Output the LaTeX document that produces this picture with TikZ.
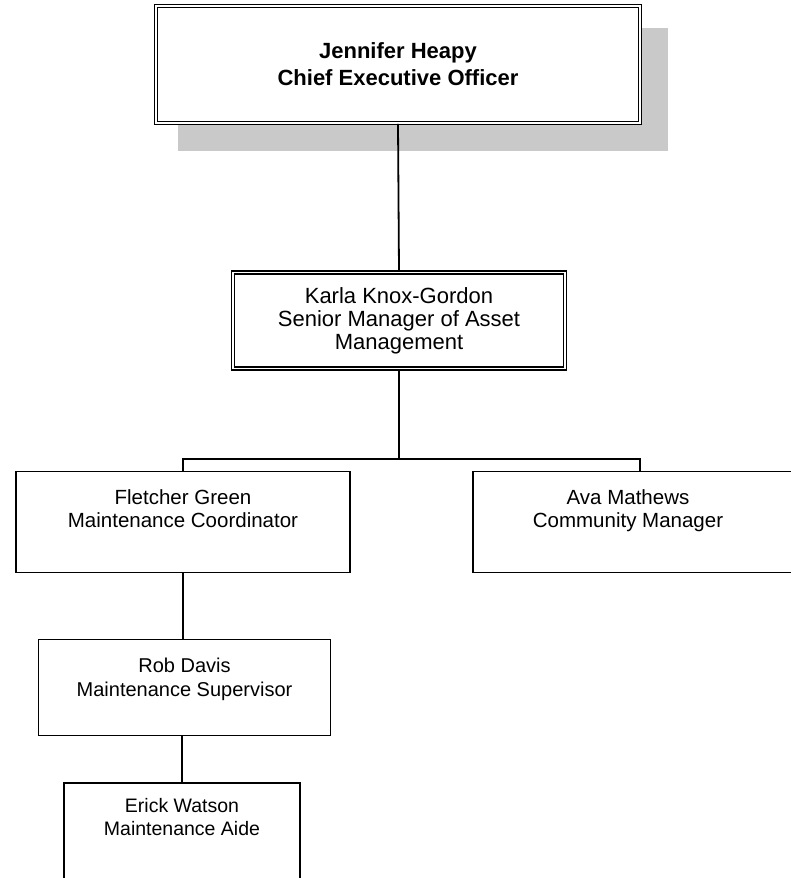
\documentclass[tikz,border=0pt]{standalone}
\usepackage{fontspec}
\setmainfont{Liberation Sans}
\begin{document}
\begin{tikzpicture}[x=1pt,y=-1pt,
  box/.style={draw, line width=1.8pt, inner sep=0pt},
  dbox/.style={box, double, double distance=1.6pt, line width=1.6pt},
  caption/.style={inner sep=0pt, align=center, anchor=north},
  link/.style={line width=1.8pt},
  shade/.style={fill=black!21, draw=none}]
\clip (0,0) rectangle (791,878);
\useasboundingbox (0,0) rectangle (791,878);

% drop shadow behind the top box
\fill[shade] (178,28) rectangle (668,151);

% chief executive
\node[dbox, fill=white, minimum width=484pt, minimum height=117pt] (ceo) at (398,64.5) {};
\node[inner sep=0pt, align=center, font=\bfseries\fontsize{22}{27}\selectfont] (ceo-t)
  at (ceo.center) {Jennifer Heapy\\Chief Executive Officer};

% senior manager
\node[dbox, minimum width=332pt, minimum height=96pt] (karla) at (399,320.5) {};
\node[inner sep=0pt, align=center, font=\fontsize{22}{23}\selectfont] (karla-t) at (karla.center)
  {Karla Knox-Gordon\\Senior Manager of Asset\\Management};

% direct reports
\node[box, minimum width=334pt, minimum height=101pt] (fletcher) at (183,522) {};
\node[caption, font=\fontsize{20.5}{23}\selectfont] (fletcher-t) at ([yshift=-19pt]fletcher.north)
  {Fletcher Green\\Maintenance Coordinator};
\node[box, minimum width=334pt, minimum height=101pt] (ava) at (640,522) {};
\node[caption, font=\fontsize{20.5}{23}\selectfont] (ava-t) at ([xshift=-12pt,yshift=-19pt]ava.north)
  {Ava Mathews\\Community Manager};
\node[box, minimum width=292pt, minimum height=96pt] (rob) at (184.5,687.5) {};
\node[caption, font=\fontsize{20}{24}\selectfont] (rob-t) at ([yshift=-19pt]rob.north)
  {Rob Davis\\Maintenance Supervisor};
\node[box, minimum width=236pt, minimum height=110pt] (erick) at (182,838) {};
\node[caption, font=\fontsize{19.5}{23}\selectfont] (erick-t) at ([yshift=-16pt]erick.north)
  {Erick Watson\\Maintenance Aide};

% reporting lines
\coordinate (bus) at (399,459);
\draw[link] (ceo.south) -- (karla.north);
\draw[link] (karla.south) -- (bus);
\draw[link] (fletcher.north) |- (bus) -| (ava.north);
\draw[link] (fletcher.south) -- (rob.north -| fletcher.south);
\draw[link] (rob.south -| erick.north) -- (erick.north);
\end{tikzpicture}
\end{document}
